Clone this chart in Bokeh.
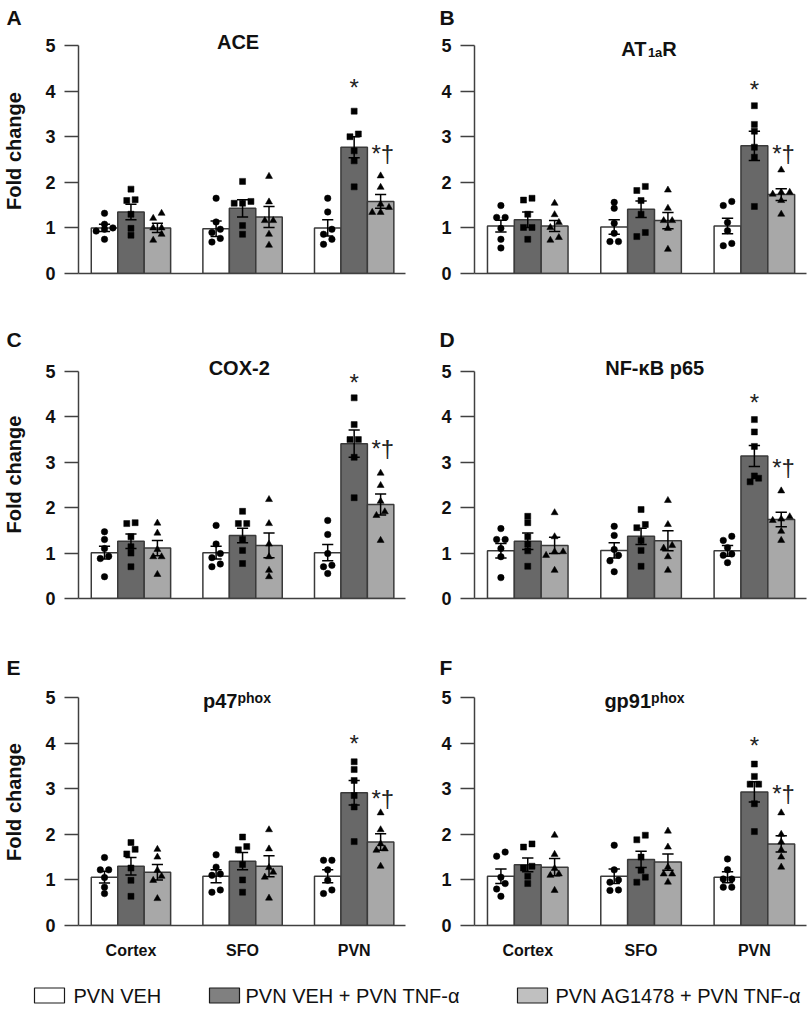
import numpy as np
from bokeh.plotting import figure
from bokeh.models import Range1d, FixedTicker, Label
from bokeh.layouts import column, row
from bokeh.embed import file_html
from bokeh.resources import INLINE
from bokeh.core.properties import value

# ---------------- data ----------------
regions = ["Cortex", "SFO", "PVN"]
groups = ["PVN VEH", "PVN VEH + PVN TNF-\u03b1", "PVN AG1478 + PVN TNF-\u03b1"]

# means / SEM: rows = region (Cortex, SFO, PVN), cols = group
ace_mean = [[1.00, 1.35, 1.00], [0.98, 1.43, 1.24], [1.00, 2.77, 1.58]]
ace_sem = [[0.08, 0.17, 0.10], [0.17, 0.19, 0.23], [0.18, 0.23, 0.15]]
ace_points = [
    [1.32, 1.08, 1.00, 0.97, 0.93, 0.75], [1.85, 1.62, 1.60, 1.30, 0.99, 0.84], [1.32, 1.21, 1.00, 1.00, 0.86, 0.73],
    [1.65, 1.13, 0.97, 0.90, 0.77, 0.69], [2.02, 1.58, 1.54, 1.54, 1.05, 0.86], [2.13, 1.57, 1.16, 1.16, 0.86, 0.62],
    [1.65, 1.35, 0.97, 0.86, 0.75, 0.64], [3.56, 3.06, 3.00, 2.69, 2.47, 1.90], [2.14, 1.89, 1.52, 1.45, 1.34, 1.34],
]
ace_stars = [4.12, 2.66]

at1r_mean = [[1.04, 1.18, 1.04], [1.02, 1.41, 1.16], [1.04, 2.80, 1.73]]
at1r_sem = [[0.13, 0.17, 0.12], [0.16, 0.18, 0.18], [0.17, 0.32, 0.13]]
at1r_points = [
    [1.49, 1.23, 1.23, 0.99, 0.75, 0.56], [1.65, 1.61, 1.30, 1.01, 1.01, 0.75], [1.54, 1.29, 1.12, 1.01, 0.79, 0.73],
    [1.56, 1.43, 1.10, 0.88, 0.70, 0.70], [1.91, 1.82, 1.60, 1.30, 0.90, 0.81], [1.83, 1.43, 1.16, 1.16, 0.99, 0.53],
    [1.58, 1.49, 1.12, 0.94, 0.66, 0.61], [3.68, 3.27, 3.12, 2.77, 2.55, 1.47], [2.27, 1.78, 1.78, 1.74, 1.60, 1.30],
]
at1r_stars = [4.07, 2.66]

cox2_mean = [[1.01, 1.26, 1.11], [1.01, 1.39, 1.17], [1.01, 3.41, 2.07]]
cox2_sem = [[0.14, 0.16, 0.17], [0.14, 0.16, 0.27], [0.18, 0.30, 0.23]]
cox2_points = [
    [1.47, 1.30, 1.10, 0.93, 0.88, 0.48], [1.67, 1.65, 1.36, 1.14, 1.00, 0.70], [1.66, 1.44, 1.08, 0.92, 0.92, 0.53],
    [1.61, 1.20, 0.99, 0.90, 0.76, 0.70], [1.92, 1.65, 1.65, 1.30, 1.06, 0.77], [2.18, 1.65, 1.20, 0.92, 0.62, 0.48],
    [1.72, 1.41, 0.99, 0.73, 0.70, 0.55], [4.42, 3.83, 3.50, 3.50, 3.11, 2.22], [2.76, 2.49, 2.14, 1.91, 1.83, 1.28],
]
cox2_stars = [4.79, 3.34]

nfkb_mean = [[1.05, 1.26, 1.17], [1.06, 1.37, 1.27], [1.05, 3.14, 1.74]]
nfkb_sem = [[0.16, 0.18, 0.18], [0.17, 0.18, 0.22], [0.12, 0.23, 0.16]]
nfkb_points = [
    [1.54, 1.30, 1.30, 1.10, 0.92, 0.46], [1.81, 1.67, 1.36, 1.20, 1.05, 0.71], [1.89, 1.36, 1.03, 1.03, 0.95, 0.62],
    [1.59, 1.39, 1.08, 0.95, 0.83, 0.59], [1.96, 1.63, 1.56, 1.28, 1.06, 0.71], [2.16, 1.63, 1.17, 1.11, 0.92, 0.62],
    [1.37, 1.28, 1.12, 0.98, 0.95, 0.79], [3.94, 3.67, 3.35, 2.70, 2.65, 2.57], [2.37, 1.80, 1.75, 1.72, 1.48, 1.28],
]
nfkb_stars = [4.34, 2.92]

p47_mean = [[1.06, 1.30, 1.17], [1.08, 1.41, 1.30], [1.08, 2.91, 1.83]]
p47_sem = [[0.13, 0.19, 0.17], [0.14, 0.19, 0.23], [0.14, 0.27, 0.18]]
p47_points = [
    [1.49, 1.22, 1.22, 1.05, 0.84, 0.70], [1.82, 1.67, 1.57, 1.26, 0.99, 0.64], [1.67, 1.50, 1.21, 1.08, 0.99, 0.59],
    [1.55, 1.28, 1.13, 1.10, 0.78, 0.73], [1.94, 1.73, 1.66, 1.34, 1.00, 0.73], [2.10, 1.68, 1.27, 1.17, 1.06, 0.60],
    [1.43, 1.43, 1.22, 0.99, 0.78, 0.70], [3.59, 3.42, 3.18, 2.85, 2.60, 1.84], [2.47, 2.10, 1.79, 1.68, 1.65, 1.30],
]
p47_stars = [4.03, 2.82]

gp91_mean = [[1.08, 1.33, 1.28], [1.08, 1.45, 1.39], [1.06, 2.93, 1.79]]
gp91_sem = [[0.16, 0.15, 0.19], [0.16, 0.18, 0.18], [0.12, 0.22, 0.18]]
gp91_points = [
    [1.61, 1.52, 1.06, 0.92, 0.80, 0.64], [1.79, 1.72, 1.30, 1.26, 1.08, 0.92], [1.98, 1.56, 1.25, 1.13, 1.10, 0.77],
    [1.76, 1.22, 1.00, 0.95, 0.78, 0.77], [1.98, 1.88, 1.50, 1.21, 1.06, 0.95], [2.07, 1.72, 1.28, 1.13, 1.13, 0.95],
    [1.46, 1.22, 1.02, 1.02, 0.84, 0.84], [3.54, 3.27, 3.10, 3.10, 2.67, 2.06], [2.47, 2.00, 1.83, 1.66, 1.50, 1.28],
]
gp91_stars = [3.97, 2.93]

# ---------------- style ----------------
FONT = "Liberation Sans"
BAR_FILL = ["#ffffff", "#686868", "#a8a8a8"]
LEG_FILL = ["#ffffff", "#808080", "#c0c0c0"]
OUTLINE = "#3a3a3a"
AX = "#404040"
MARKERS = ["circle", "square", "triangle"]
MSIZE = [6.5, 6, 7]
BW = 0.237
XR = (-0.47, 2.46)
# (figure height, border top, border bottom, px between frame top and the "5" tick)
ROWS = [(320, 28, 47, 17), (320, 30, 42, 21), (328, 38, 43, 19)]

BOLD_W = {"A": 722, "T": 611, "R": 722, "1": 556, "a": 556, "p": 611, "4": 556, "7": 556,
          "h": 611, "o": 611, "x": 556, "g": 611, "9": 556}


def swarm(vals, step=0.075, tol=0.13):
    vals = np.asarray(vals, dtype=float)
    order = np.argsort(vals)
    rows_ = []
    for i in order:
        if rows_ and vals[i] - vals[rows_[-1][0]] <= tol:
            rows_[-1].append(i)
        else:
            rows_.append([i])
    offs = np.zeros(len(vals))
    for r in rows_:
        n = len(r)
        for k, i in enumerate(r):
            offs[i] = (k - (n - 1) / 2) * step
    return offs


def add_title(p, cx, cy, pieces):
    if len(pieces) == 1:
        t, s, _ = pieces[0]
        p.add_layout(Label(x=cx, y=cy, text=t, text_font=FONT, text_font_size=f"{s}px",
                           text_font_style="bold", text_align="center", text_baseline="middle",
                           text_color="#111111"))
        return
    widths = [sum(BOLD_W[c] for c in t) / 1000 * s for t, s, _ in pieces]
    xo = -sum(widths) / 2
    for (t, s, r), w in zip(pieces, widths):
        p.add_layout(Label(x=cx, y=cy, x_offset=xo, y_offset=r - 7.2, text=t, text_font=FONT,
                           text_font_size=f"{s}px", text_font_style="bold", text_align="left",
                           text_baseline="alphabetic", text_color="#111111"))
        xo += w


def make_panel(letter, title, tcx, mean, sem, pts, stars, side, rowi):
    width = 406
    bleft = 76 if side == 0 else 68
    bright = 1 if side == 0 else 6
    height, btop, bbot, gap5 = ROWS[rowi]
    frame_h = height - btop - bbot
    ppu = (frame_h - gap5) / 5.0
    ytop = 5 + gap5 / ppu
    p = figure(width=width, height=height, x_range=Range1d(*XR), y_range=Range1d(0, ytop),
               output_backend="svg", toolbar_location=None, tools="",
               min_border_left=bleft, min_border_right=bright, min_border_top=btop,
               min_border_bottom=bbot)
    p.outline_line_color = None
    p.xgrid.visible = False
    p.ygrid.visible = False

    # panel letter as the figure title (lives in the top border, not clipped)
    p.title.text = letter
    p.title.text_font = FONT
    p.title.text_font_size = "21px"
    p.title.text_font_style = "bold"
    p.title.text_color = "#111111"
    p.title.align = "left"
    p.title.vertical_align = "bottom"
    p.title.standoff = 0
    p.title.offset = -72 if side == 0 else -35

    xs, tops, errs, cols = [], [], [], []
    for r in range(3):
        for g in range(3):
            xs.append(r + (g - 1) * BW)
            tops.append(mean[r][g])
            errs.append(sem[r][g])
            cols.append(BAR_FILL[g])
    xs = np.array(xs)
    tops = np.array(tops)
    errs = np.array(errs)
    p.vbar(x=xs, top=tops, bottom=0, width=BW, fill_color=cols, line_color=OUTLINE, line_width=1.5)

    # error bars (mean +/- SEM)
    p.segment(x0=xs, y0=tops - errs, x1=xs, y1=tops + errs, line_color="#000000", line_width=1.5)
    cw = 0.05
    p.segment(x0=xs - cw, y0=tops + errs, x1=xs + cw, y1=tops + errs, line_color="#000000", line_width=1.5)
    p.segment(x0=xs - cw, y0=tops - errs, x1=xs + cw, y1=tops - errs, line_color="#000000", line_width=1.5)

    # individual animals
    for i, vals in enumerate(pts):
        g = i % 3
        offs = swarm(vals)
        p.scatter(x=xs[i] + offs, y=vals, marker=MARKERS[g], size=MSIZE[g],
                  fill_color="#000000", line_color="#000000", line_width=0.5)

    # significance marks (PVN region)
    sx = [2.0, 2.0 + BW + 0.02]
    sy = [stars[0] - 1.5 / ppu, stars[1] - 1.5 / ppu]
    p.text(x=sx, y=sy, text=["*", "*\u2020"], text_font=value(FONT), text_font_size="24px",
           text_align="center", text_baseline="alphabetic", text_color="#222222")

    # axes
    yax = p.yaxis[0]
    yax.bounds = (0, 5)
    yax.ticker = FixedTicker(ticks=[0, 1, 2, 3, 4, 5], minor_ticks=[])
    yax.major_label_text_font = FONT
    yax.major_label_text_font_size = "18px"
    yax.major_label_text_font_style = "bold"
    yax.major_label_text_color = "#111111"
    yax.major_tick_out = 14
    yax.major_tick_in = 0
    yax.minor_tick_out = 0
    yax.minor_tick_in = 0
    yax.axis_line_color = AX
    yax.major_tick_line_color = AX
    yax.axis_line_width = 1.5
    yax.major_tick_line_width = 1.5
    yax.major_label_standoff = 9
    if side == 0:
        yax.axis_label = "Fold change"
        yax.axis_label_text_font = FONT
        yax.axis_label_text_font_size = "20px"
        yax.axis_label_text_font_style = "bold"
        yax.axis_label_text_color = "#111111"
        yax.axis_label_standoff = 17

    xax = p.xaxis[0]
    xax.axis_line_color = AX
    xax.axis_line_width = 1.5
    xax.major_tick_out = 0
    xax.major_tick_in = 0
    xax.minor_tick_out = 0
    xax.minor_tick_in = 0
    if rowi == 2:
        xax.ticker = FixedTicker(ticks=[0, 1, 2], minor_ticks=[])
        xax.major_label_overrides = {0: regions[0], 1: regions[1], 2: regions[2]}
        xax.major_label_text_font = FONT
        xax.major_label_text_font_size = "16px"
        xax.major_label_text_font_style = "bold"
        xax.major_label_text_color = "#111111"
        xax.major_label_standoff = 16
    else:
        xax.ticker = FixedTicker(ticks=[], minor_ticks=[])
        xax.major_label_text_font_size = "0px"

    # gene title (inside the frame, above the 5 tick level)
    add_title(p, tcx, 5.0 + 4.0 / ppu, title)
    return p


pA = make_panel("A", [("ACE", 20, 0)], 0.96, ace_mean, ace_sem, ace_points, ace_stars, 0, 0)
pB = make_panel("B", [("AT", 20, 0), ("1a", 13, -4), ("R", 20, 0)], 1.07,
                at1r_mean, at1r_sem, at1r_points, at1r_stars, 1, 0)
pC = make_panel("C", [("COX-2", 20, 0)], 0.97, cox2_mean, cox2_sem, cox2_points, cox2_stars, 0, 1)
pD = make_panel("D", [("NF-\u03baB p65", 20, 0)], 1.12, nfkb_mean, nfkb_sem, nfkb_points, nfkb_stars, 1, 1)
pE = make_panel("E", [("p47", 20, 0), ("phox", 14, 3)], 0.95, p47_mean, p47_sem, p47_points, p47_stars, 0, 2)
pF = make_panel("F", [("gp91", 20, 0), ("phox", 14, 3)], 1.03, gp91_mean, gp91_sem, gp91_points, gp91_stars, 1, 2)

# legend strip
leg = figure(width=812, height=40, x_range=Range1d(0, 812), y_range=Range1d(0, 40),
             x_axis_type=None, y_axis_type=None, output_backend="svg", toolbar_location=None,
             tools="", min_border=0)
leg.outline_line_color = None
box_left = np.array([34, 209, 517])
leg.quad(left=box_left, right=box_left + 30, bottom=5.5, top=20.5, fill_color=LEG_FILL,
         line_color="#1a1a1a", line_width=1.2)
leg.text(x=[73, 245, 555], y=[13, 13, 13], text=groups, text_font=value(FONT),
         text_font_size="20px", text_baseline="middle", text_align="left", text_color="#111111")

layout = column(row(pA, pB), row(pC, pD), row(pE, pF), leg)
open("out.html", "w").write(file_html(layout, INLINE))
